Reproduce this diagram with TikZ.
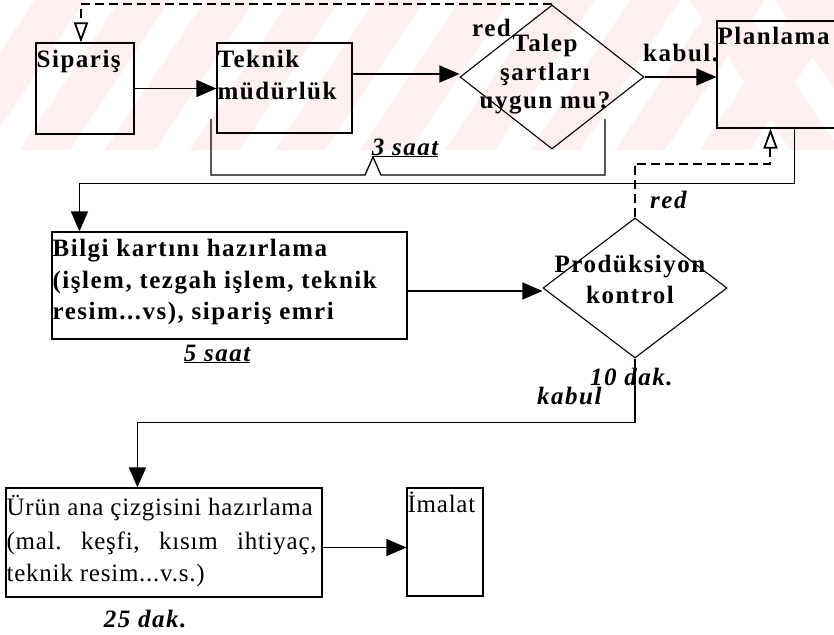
\documentclass[tikz,border=0pt]{standalone}
\usepackage{fontspec}
\setmainfont{Liberation Serif}[LetterSpace=6]
\newfontfamily\lightserif{Liberation Serif}[LetterSpace=3]
\usetikzlibrary{arrows.meta,shapes.geometric,calc}

\definecolor{wmpink}{RGB}{254,239,241}

\tikzset{
  box/.style={draw, line width=1.1pt, rectangle, inner sep=0pt},
  decision/.style={draw, line width=1.1pt, diamond, inner sep=0pt},
  lbl/.style={inner sep=0pt, anchor=base west, font=\bfseries\fontsize{25}{31}\selectfont},
  lblc/.style={lbl, anchor=base},
  lblr/.style={inner sep=0pt, anchor=base west, font=\lightserif\fontsize{25}{31}\selectfont\frenchspacing},
  note/.style={inner sep=0pt, anchor=base, font=\bfseries\itshape\fontsize{25}{31}\selectfont},
  flow/.style={line width=1.3pt, -{Triangle[length=20pt,width=17pt]}},
  plain/.style={line width=1.3pt},
  back/.style={line width=2pt, dash pattern=on 9pt off 5pt,
    -{Triangle[open,length=20pt,width=14pt,line width=1.8pt]}},
}

\begin{document}
\begin{tikzpicture}[x=1pt,y=-1pt]
\useasboundingbox (0,0) rectangle (834,634);
\clip (0,0) rectangle (834,634);

% light watermark stripes along the top band
\begin{scope}
  \clip (0,0) rectangle (834,150);
  \foreach \sx in {-150,-65,...,720}
    \fill[wmpink] (\sx,150) -- ++(50,0) -- ++(100,-150) -- ++(-50,0) -- cycle;
  \foreach \sx in {690,775,860}
    \fill[wmpink] (\sx,0) -- ++(50,0) -- ++(100,150) -- ++(-50,0) -- cycle;
\end{scope}

% process boxes and decisions
\node[box, minimum width=98pt, minimum height=91pt] (sip) at (85,88.5) {};
\node[box, minimum width=135pt, minimum height=90pt] (tek) at (284.5,88) {};
\node[decision, minimum width=184pt, minimum height=144pt] (tal) at (552,77) {};
\node[box, minimum width=153pt, minimum height=107pt] (plan) at (793.5,74.5) {};
\node[box, minimum width=355pt, minimum height=107pt] (bil) at (229.5,285.5) {};
\node[decision, minimum width=184pt, minimum height=140pt] (pro) at (635,288) {};
\node[box, minimum width=316pt, minimum height=109pt] (urun) at (164,542.5) {};
\node[box, minimum width=76pt, minimum height=108pt] (ima) at (445,542) {};

% box texts
\node[lbl] (tsip) at ($(sip.north west)+(1,25)$) {Sipariş};
\node[lbl] (ttek1) at ($(tek.north west)+(1,25)$) {Teknik};
\node[lbl] (ttek2) at ($(tek.north west)+(1,57)$) {müdürlük};
\node[lblc] (ttal1) at (545,52) {Talep};
\node[lblc] (ttal2) at (545,80) {şartları};
\node[lblc] (ttal3) at (545,108) {uygun mu?};
\node[lbl] (tplan) at ($(plan.north west)+(1,24)$) {Planlama};
\node[lbl] (tbil1) at ($(bil.north west)+(1,25)$) {Bilgi kartını hazırlama};
\node[lbl] (tbil2) at ($(bil.north west)+(1,57)$) {(işlem, tezgah işlem, teknik};
\node[lbl] (tbil3) at ($(bil.north west)+(1,88)$) {resim...vs), sipariş emri};
\node[lblc] (tpro1) at (630,272) {Prodüksiyon};
\node[lblc] (tpro2) at (630,303) {kontrol};
\node[lblr] (turun1) at ($(urun.north west)+(1,28)$) {Ürün ana çizgisini hazırlama};
\node[lblr] (turun2) at ($(urun.north west)+(1,62)$) {\makebox[310pt][s]{(mal. keşfi, kısım ihtiyaç,}};
\node[lblr] (turun3) at ($(urun.north west)+(1,94)$) {teknik resim...v.s.)};
\node[lblr] (tima) at ($(ima.north west)+(1,25)$) {\.Imalat};

% branch labels
\node[lbl] (redA) at (472,37) {red};
\node[lbl] (kabA) at (643,61) {kabul.};
\node[note, anchor=base west] (redB) at (650,208) {red};
\node[note, anchor=base west] (kabB) at (537,404) {kabul};

% durations
\node[note] (d3) at (405,155) {\underline{3 saat}};
\node[note] (d5) at (217,361) {\underline{5 saat}};
\node[note, anchor=base west] (d10) at (590,385) {10 dak.};
\node[note] (d25) at (145,627) {25 dak.};

% main flow
\draw[flow] (sip.east) -- (sip.east -| tek.west);
\draw[flow] ($(tek.east |- tal.west)+(0,-3)$) -- ($(tal.west)+(0,-3)$);
\draw[flow] (tal.east) -- (tal.east -| plan.west);
\coordinate (planout) at ($(plan.south west)+(78,0)$);
\coordinate (bilin) at ($(bil.north west)+(28,0)$);
\draw[flow] (planout) -- ($(planout)+(0,55)$) -| (bilin);
\draw[flow] ($(bil.east |- pro.west)+(0,3)$) -- ($(pro.west)+(0,3)$);
\coordinate (urunin) at ($(urun.north west)+(132,0)$);
\draw[flow] (pro.south) -- ($(pro.south)+(0,64)$) -| (urunin);
\draw[flow] ($(urun.east)+(0,5)$) -- ($(urun.east -| ima.west)+(0,5)$);

% rejection loops
\coordinate (sipin) at ($(sip.north)+(-4,0)$);
\draw[back] (tal.north) -- (tal.north -| sipin) -- (sipin);
\coordinate (planin) at ($(plan.south west)+(54,0)$);
\draw[back] (pro.north) |- ($(planin)+(0,35)$) -- (planin);

% time span bracket under the first steps
\draw[plain] (211,119) -- (211,175) -- (365,175) -- (373,157) -- (381,175)
  -- (605,175) -- (605,119);
\end{tikzpicture}
\end{document}
